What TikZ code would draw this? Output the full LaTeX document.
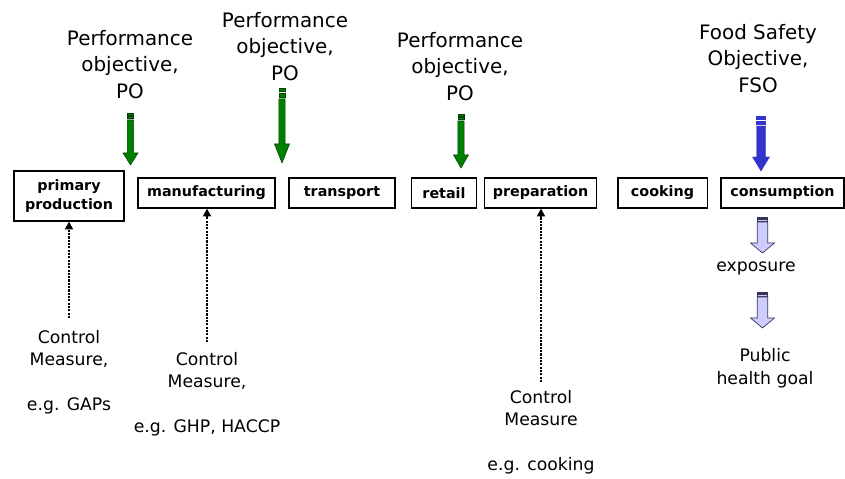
\documentclass[tikz,border=0pt]{standalone}
\usepackage{fontspec}
\setmainfont{DejaVu Sans}
\usetikzlibrary{arrows.meta}

\definecolor{pogreen}{HTML}{008000}
\definecolor{poedge}{HTML}{004000}
\definecolor{fsoblue}{HTML}{3333CC}
\definecolor{expfill}{HTML}{CCCCFF}
\definecolor{expedge}{HTML}{333355}

\tikzset{
  stage/.style={draw, line width=0.8pt, inner sep=0pt, minimum height=0.795cm,
    font=\fontsize{10.8}{14}\selectfont\bfseries, align=center},
  objtext/.style={anchor=north, inner sep=0pt, align=center, font=\fontsize{15}{20}\selectfont},
  ctrltext/.style={anchor=north, inner sep=0pt, align=center, font=\fontsize{13}{17}\selectfont},
  ctrl/.style={line width=1.5pt, dash pattern=on 1.6pt off 0.9pt, -{Triangle[length=6pt,width=6pt]}},
  goaltext/.style={inner sep=0pt, align=center, font=\fontsize{13}{17}\selectfont},
}

% striped block arrow: [style]{x}{top}{shaft}{head}{tip}{half shaft}{half head}
\newcommand{\stripedarrow}[8][]{%
  \filldraw[#1] (#2-#7,#3) rectangle (#2+#7,{#3+0.3*(#4-#3)});
  \filldraw[#1] (#2-#7,{#3+0.5*(#4-#3)}) rectangle (#2+#7,{#3+0.8*(#4-#3)});
  \filldraw[#1] (#2-#7,#4) -- (#2-#7,#5) -- (#2-#8,#5) -- (#2,#6)
    -- (#2+#8,#5) -- (#2+#7,#5) -- (#2+#7,#4) -- cycle;
}

\begin{document}
\begin{tikzpicture}[x=0.0265cm, y=-0.0265cm]
  \useasboundingbox (0,0) rectangle (845,479);

  % food chain
  \node [stage, minimum width=2.915cm, minimum height=1.325cm] (prim) at (69,196) {primary\\production};
  \node [stage, minimum width=3.63cm] (manu) at (206.5,193) {manufacturing};
  \node [stage, minimum width=2.81cm] (trans) at (342,193) {transport};
  \node [stage, minimum width=1.70cm] (retail) at (444,193) {retail};
  \node [stage, minimum width=2.99cm] (prep) at (540.5,193) {preparation};
  \node [stage, minimum width=2.36cm] (cook) at (662.5,193) {cooking};
  \node [stage, minimum width=3.26cm] (cons) at (782.5,193) {consumption};

  % objectives
  \node [objtext] (po1) at (130,30) {Performance\\objective,\\PO};
  \node [objtext] (po2) at (285,12) {Performance\\objective,\\PO};
  \node [objtext] (po3) at (460,32) {Performance\\objective,\\PO};
  \node [objtext] (fso) at (758,24) {Food Safety\\Objective,\\FSO};

  \stripedarrow[fill=pogreen, draw=poedge, line width=0.4pt]{130.5}{113}{120}{153}{165}{3.2}{7.5}
  \stripedarrow[fill=pogreen, draw=poedge, line width=0.4pt]{282}{88}{99}{144}{163}{3.2}{7.5}
  \stripedarrow[fill=pogreen, draw=poedge, line width=0.4pt]{461}{114}{121}{155}{168}{3.2}{7.5}
  \stripedarrow[fill=fsoblue, draw=fsoblue, line width=0.3pt]{761}{116}{126}{157}{171}{4.5}{8.5}

  % control measures
  \node [ctrltext] (cm1) at (69,330) {Control\\Measure,\\[17pt]e.g. GAPs};
  \node [ctrltext] (cm2) at (207,352) {Control\\Measure,\\[17pt]e.g. GHP, HACCP};
  \node [ctrltext] (cm3) at (541,390) {Control\\Measure\\[17pt]e.g. cooking};
  \draw [ctrl] ([yshift=9pt]cm1.north) -- (cm1.north |- prim.south);
  \draw [ctrl] ([yshift=7.5pt]cm2.north) -- (cm2.north |- manu.south);
  \draw [ctrl] ([yshift=6pt]cm3.north) -- (cm3.north |- prep.south);

  % exposure and goal
  \stripedarrow[fill=expfill, draw=expedge, line width=0.5pt]{762.5}{217}{222}{243}{253}{5.2}{12}
  \node [goaltext] (expo) at (756,268) {exposure};
  \stripedarrow[fill=expfill, draw=expedge, line width=0.5pt]{762.5}{292}{297}{318}{328}{5.2}{12}
  \node [goaltext] (goal) at (765,368) {Public\\health goal};
\end{tikzpicture}
\end{document}
